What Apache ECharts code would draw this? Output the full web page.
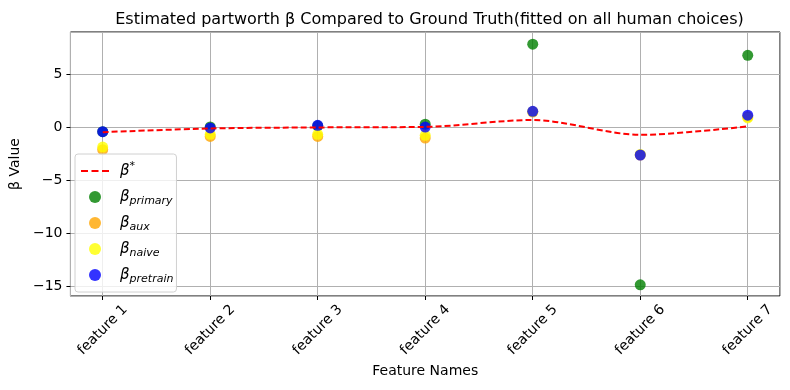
<!DOCTYPE html>
<html>
<head>
<meta charset="utf-8">
<script src="https://cdn.jsdelivr.net/npm/echarts@6/dist/echarts.min.js"></script>
<style>
  html, body { margin: 0; padding: 0; background: #fff; }
  #chart { width: 790px; height: 390px; }
</style>
</head>
<body>
<div id="chart"></div>
<script>
var features = ['feature 1', 'feature 2', 'feature 3', 'feature 4', 'feature 5', 'feature 6', 'feature 7']
var betaStar = [-0.45, -0.1, 0.0, 0.05, 0.7, -0.7, 0.1]
var betaPrimary = [-0.4, 0.05, 0.15, 0.3, 7.85, -14.85, 6.8]
var betaAux = [-2.1, -0.85, -0.85, -1.0, 1.45, -2.6, 1.0]
var betaNaive = [-1.85, -0.65, -0.65, -0.75, 1.5, -2.55, 0.9]
var betaPretrain = [-0.4, -0.05, 0.2, 0.03, 1.52, -2.6, 1.15]

var legendNames = {
    star: '{b|β}{sup|*}',
    primary: '{b|β}{sub|primary}',
    aux: '{b|β}{sub|aux}',
    naive: '{b|β}{sub|naive}',
    pretrain: '{b|β}{sub|pretrain}'
}

// dashed line icon for the β* legend entry
var dashIcon = 'path://M0,0 L7,0 L7,2 L0,2 Z M10.5,0 L17.5,0 L17.5,2 L10.5,2 Z M21,0 L28,0 L28,2 L21,2 Z'

function pairs(arr) {
    return arr.map(function (v, i) { return [i, v] })
}

function scatter(name, color, arr) {
    return {
        name: name,
        type: 'scatter',
        symbolSize: 11,
        itemStyle: { color: color, opacity: 1 },
        data: pairs(arr),
        z: 2
    }
}

var chart = echarts.init(document.getElementById('chart'))
var font = 'DejaVu Sans'

chart.setOption({
    animation: false,
    textStyle: { fontFamily: font },
    title: {
        text: 'Estimated partworth β Compared to Ground Truth(fitted on all human choices)',
        left: 424.5,
        textAlign: 'center',
        top: 7,
        textStyle: { fontFamily: font, fontSize: 16, fontWeight: 'normal', color: '#000' }
    },
    grid: { left: 69, right: 10, top: 32, bottom: 94, show: true, borderColor: '#000', borderWidth: 1, containLabel: false },
    legend: {
        orient: 'vertical',
        left: 75,
        top: 154,
        padding: [7, 3, 7, 6],
        itemGap: 6,
        itemWidth: 28,
        itemHeight: 12,
        backgroundColor: 'rgba(255,255,255,0.8)',
        borderColor: '#d0d0d0',
        borderWidth: 1,
        borderRadius: 3,
        data: [
            { name: 'star', icon: dashIcon, itemStyle: { color: '#ff0000', borderWidth: 0 } },
            'primary', 'aux', 'naive', 'pretrain'
        ],
        formatter: function (name) { return legendNames[name] },
        textStyle: {
            fontFamily: font,
            color: '#000',
            rich: {
                b: { fontFamily: font, fontStyle: 'italic', fontSize: 15, lineHeight: 20, height: 20, padding: [0, 0, 0, 6], color: '#000' },
                sub: { fontFamily: font, fontStyle: 'italic', fontSize: 11, lineHeight: 11, verticalAlign: 'bottom', color: '#000' },
                sup: { fontFamily: font, fontSize: 11, lineHeight: 11, verticalAlign: 'top', color: '#000' }
            }
        }
    },
    xAxis: {
        type: 'value',
        min: -0.3,
        max: 6.3,
        splitNumber: 7,
        name: 'Feature Names',
        nameLocation: 'middle',
        nameGap: 68,
        nameTextStyle: { fontFamily: font, fontSize: 14, color: '#000' },
        axisLine: { show: false, onZero: false },
        axisTick: { show: true, length: 4, inside: false, lineStyle: { color: '#000' } },
        splitLine: { show: true, lineStyle: { color: '#b0b0b0', width: 1 } },
        axisLabel: {
            rotate: 45,
            align: 'center',
            verticalAlign: 'middle',
            margin: 34,
            fontFamily: font,
            fontSize: 14,
            color: '#000',
            showMinLabel: false,
            showMaxLabel: false,
            formatter: function (v) {
                return Math.abs(v - Math.round(v)) < 1e-6 ? (features[Math.round(v)] || '') : ''
            }
        }
    },
    yAxis: {
        type: 'value',
        min: -15.9,
        max: 9,
        splitNumber: 5,
        name: 'β Value',
        nameLocation: 'middle',
        nameGap: 44,
        nameTextStyle: { fontFamily: font, fontSize: 14, color: '#000' },
        axisLine: { show: false, onZero: false },
        axisTick: { show: true, length: 4, lineStyle: { color: '#000' } },
        splitLine: { show: true, lineStyle: { color: '#b0b0b0', width: 1 } },
        axisLabel: {
            fontFamily: font,
            fontSize: 14,
            color: '#000',
            margin: 8,
            showMinLabel: false,
            showMaxLabel: false,
            formatter: function (v) {
                return Math.abs(v % 5) < 1e-6 ? String(v).replace('-', '\u2212') : ''
            }
        }
    },
    series: [
        scatter('primary', 'rgba(0,128,0,0.8)', betaPrimary),
        scatter('aux', 'rgba(255,165,0,0.8)', betaAux),
        scatter('naive', 'rgba(255,255,0,0.8)', betaNaive),
        scatter('pretrain', 'rgba(0,0,255,0.8)', betaPretrain),
        {
            name: 'star',
            type: 'line',
            data: pairs(betaStar),
            symbol: 'none',
            smooth: 0.3,
            z: 5,
            itemStyle: { color: '#ff0000' },
            lineStyle: { color: '#ff0000', width: 2, type: [6, 3] }
        }
    ]
})
</script>
</body>
</html>
